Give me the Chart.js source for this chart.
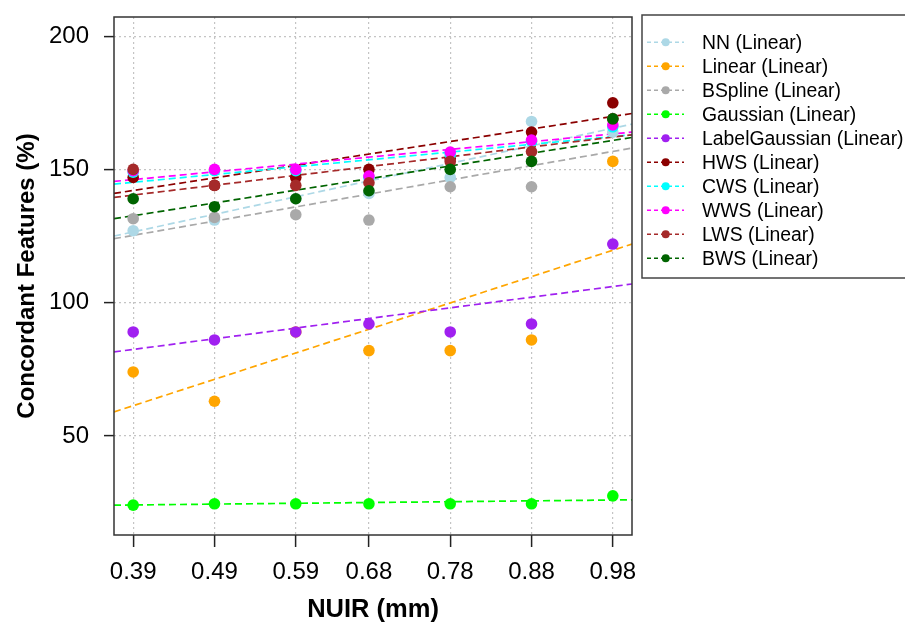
<!DOCTYPE html>
<html>
<head>
<meta charset="utf-8">
<script src="https://cdn.jsdelivr.net/npm/chart.js@4.4.0/dist/chart.umd.min.js"></script>
<style>
  html, body { margin: 0; padding: 0; background: #fff; }
</style>
</head>
<body>
<canvas id="nuirChart" width="905" height="625"></canvas>
<script>
// values
var xValues = [0.39, 0.49, 0.59, 0.68, 0.78, 0.88, 0.98];
var xTicks = [0.39, 0.49, 0.59, 0.68, 0.78, 0.88, 0.98];
var yTicks = [50, 100, 150, 200];

var methods = ['NN', 'Linear', 'BSpline', 'Gaussian', 'LabelGaussian', 'HWS', 'CWS', 'WWS', 'LWS', 'BWS'];

var nn            = [127, 131, 139, 141, 147, 168, 164];
var linear        = [74, 63, 89, 82, 82, 86, 153];
var bspline       = [131.5, 132, 133, 131, 143.5, 143.5, 169];
var gaussian      = [24, 24.5, 24.5, 24.5, 24.5, 24.5, 27.5];
var labelGaussian = [89, 86, 89, 92, 89, 92, 122];
var hws           = [147, 144, 147, 150, 154, 164, 175];
var cws           = [149, 149.5, 149.5, 147, 155.5, 160.5, 166];
var wws           = [149.5, 150, 150, 147.5, 156.5, 161, 166.7];
var lws           = [150, 144, 144, 145, 153, 156.7, 169];
var bws           = [139, 136, 139, 142, 150, 153, 169];

// fitted (linear) trend values at the left and right edge of the plot
var trendStart = [125, 59, 124, 24, 81.5, 141, 144.5, 145.5, 139.5, 131.5];
var trendEnd   = [167, 122, 158, 26, 107, 171, 163, 164, 163, 162];

var series = [nn, linear, bspline, gaussian, labelGaussian, hws, cws, wws, lws, bws];
var colors = ['#ADD8E6', '#FFA500', '#A9A9A9', '#00FF00', '#A020F0',
              '#8B0000', '#00FFFF', '#FF00FF', '#A52A2A', '#006400'];

var xMin = 0.3664, xMax = 1.0036;
var yMin = 12.8, yMax = 207.2;

Chart.defaults.font.family = "'Liberation Sans', Arial, sans-serif";
Chart.defaults.color = '#000';

var datasets = [];
methods.forEach(function (name, i) {
    datasets.push({
        label: name + ' (Linear)',
        data: xValues.map(function (x, j) { return { x: x, y: series[i][j] }; }),
        showLine: false,
        pointRadius: 5.8,
        pointHoverRadius: 5.8,
        pointBorderWidth: 0,
        backgroundColor: colors[i],
        borderColor: colors[i],
        order: 10 - i
    });
});
methods.forEach(function (name, i) {
    datasets.push({
        label: name + ' fit',
        data: [{ x: xMin, y: trendStart[i] }, { x: xMax, y: trendEnd[i] }],
        showLine: true,
        pointRadius: 0,
        borderColor: colors[i],
        borderWidth: 1.7,
        borderDash: [7, 4],
        fill: false,
        order: 100 - i
    });
});

var framePlugin = {
    id: 'frame',
    afterDraw: function (chart) {
        var a = chart.chartArea, ctx = chart.ctx;
        ctx.save();
        ctx.strokeStyle = '#333';
        ctx.lineWidth = 1.5;
        ctx.strokeRect(a.left, a.top, a.right - a.left, a.bottom - a.top);

        // legend box
        ctx.strokeStyle = '#444';
        ctx.strokeRect(642, 15, 275, 263);
        ctx.font = "19.4px 'Liberation Sans', Arial, sans-serif";
        ctx.textBaseline = 'middle';
        ctx.textAlign = 'left';
        methods.forEach(function (name, i) {
            var y = 42.3 + i * 24;
            ctx.strokeStyle = colors[i];
            ctx.lineWidth = 1.4;
            ctx.setLineDash([4, 3]);
            ctx.beginPath();
            ctx.moveTo(647, y);
            ctx.lineTo(684, y);
            ctx.stroke();
            ctx.setLineDash([]);
            ctx.fillStyle = colors[i];
            ctx.beginPath();
            ctx.arc(665.7, y, 4, 0, Math.PI * 2);
            ctx.fill();
            ctx.fillStyle = '#000';
            ctx.fillText(name + ' (Linear)', 702, y + 1);
        });
        ctx.restore();
    }
};

function noPadding(s) {
    s.paddingTop = 0;
    s.paddingBottom = 0;
    s.paddingLeft = 0;
    s.paddingRight = 0;
}

var ctx = document.getElementById('nuirChart');
var myChart = new Chart(ctx, {
    type: 'scatter',
    data: { datasets: datasets },
    options: {
        responsive: false,
        animation: false,
        layout: { padding: { top: 17, right: 273, bottom: 0, left: 0 } },
        plugins: {
            legend: { display: false },
            tooltip: { enabled: false }
        },
        scales: {
            x: {
                type: 'linear',
                min: xMin,
                max: xMax,
                afterBuildTicks: function (s) { s.ticks = xTicks.map(function (v) { return { value: v }; }); },
                afterFit: function (s) { s.height = 90; noPadding(s); },
                ticks: {
                    font: { size: 24 },
                    padding: 11,
                    maxRotation: 0,
                    autoSkip: false,
                    callback: function (v) { return v.toFixed(2); }
                },
                grid: {
                    color: '#c4c4c4',
                    lineWidth: 1.2,
                    tickColor: '#222',
                    tickLength: 12,
                    tickWidth: 1.5,
                    tickBorderDash: []
                },
                border: { display: false, dash: [2, 3] },
                title: {
                    display: true,
                    text: 'NUIR (mm)',
                    font: { size: 25.5, weight: 'bold' },
                    padding: { top: 0, bottom: 0 }
                }
            },
            y: {
                type: 'linear',
                min: yMin,
                max: yMax,
                afterBuildTicks: function (s) { s.ticks = yTicks.map(function (v) { return { value: v }; }); },
                afterFit: function (s) { s.width = 114; noPadding(s); },
                ticks: { font: { size: 24 }, padding: 15 },
                grid: {
                    color: '#c4c4c4',
                    lineWidth: 1.2,
                    tickColor: '#222',
                    tickLength: 10,
                    tickWidth: 1.5,
                    tickBorderDash: []
                },
                border: { display: false, dash: [2, 3] },
                title: {
                    display: true,
                    text: 'Concordant Features (%)',
                    font: { size: 24, weight: 'bold' },
                    padding: { top: 13, bottom: 0 }
                }
            }
        }
    },
    plugins: [framePlugin]
});
</script>
</body>
</html>
